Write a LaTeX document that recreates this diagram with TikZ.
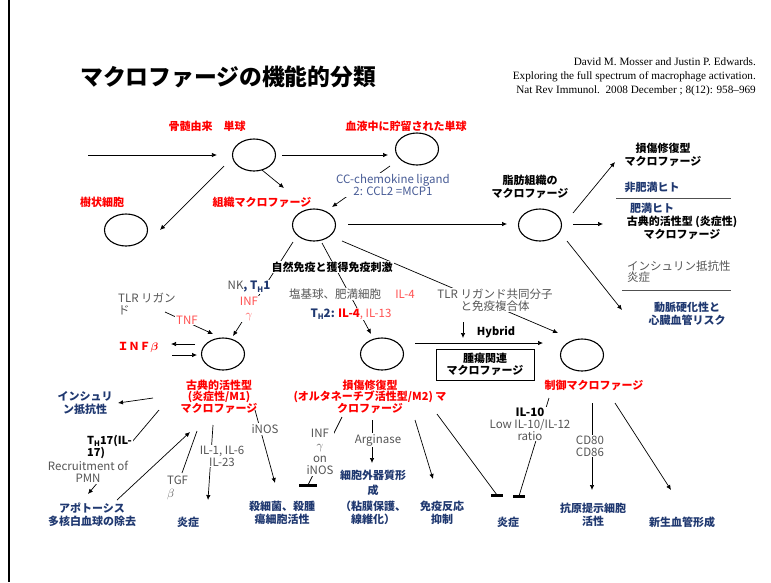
\documentclass[tikz,border=0pt]{standalone}
\usepackage{amsmath}
\usepackage{fontspec}
\setmainfont{Noto Sans CJK JP}
\newfontfamily\citefont{Liberation Serif}
\usetikzlibrary{arrows.meta,shapes.geometric}
\definecolor{jred}{RGB}{255,0,0}
\definecolor{lred}{RGB}{255,80,80}
\definecolor{navy}{RGB}{31,56,112}
\definecolor{tgray}{RGB}{85,85,85}
\definecolor{slate}{RGB}{72,92,150}
\definecolor{rulegray}{RGB}{80,80,80}
\tikzset{
  ell/.style={ellipse, draw, line width=1.1pt, minimum width=43pt, minimum height=32pt, inner sep=0pt},
  arr/.style={-{Latex[length=5pt,width=4.5pt]}, line width=0.7pt},
  ln/.style={line width=0.7pt},
  tbar/.style={line width=3pt},
  rl/.style={text=jred, font=\fontsize{11}{10.8}\selectfont\bfseries, align=center},
  nv/.style={text=navy, font=\fontsize{11}{12.8}\selectfont\bfseries, align=center},
  bk/.style={text=black, font=\fontsize{11}{12.5}\selectfont\bfseries, align=center},
  gr/.style={text=tgray, font=\fontsize{11.5}{12}\selectfont, align=center},
  wf/.style={fill=white},
}
\newcommand{\THsub}[1]{T\raisebox{-0.35ex}{\fontsize{7.5}{7.5}\selectfont H}#1}
\begin{document}
\begin{tikzpicture}[x=1pt,y=-1pt, every node/.append style={inner sep=1pt}]
\useasboundingbox (0,0) rectangle (771,582);
\draw[line width=2pt] (8.5,0) -- (8.5,582);

% title and citation
\node[anchor=west, font=\fontsize{22.8}{26}\selectfont\bfseries] (title) at (79,77) {マクロファージの機能的分類};
\node[anchor=east, align=right, font=\citefont\fontsize{11.2}{14}\selectfont] (cite) at (757,77)
  {David M. Mosser and Justin P. Edwards.\\Exploring the full spectrum of macrophage activation.\\Nat Rev Immunol.\ \ 2008 December ; 8(12): 958–969};

% cells
\node[ell] (bm) at (254,155) {};
\node[ell] (bl) at (417,149) {};
\node[ell] (dc) at (126,230) {};
\node[ell] (tm) at (314,225) {};
\node[ell] (ad) at (540,225) {};
\node[ell] (m1) at (223,354) {};
\node[ell] (m2) at (382,354) {};
\node[ell] (rg) at (582,355) {};

% coordinates for connector ends
\coordinate (src) at (88,155);
\coordinate (c1a) at (282,155); \coordinate (c1b) at (388,155);
\coordinate (c2a) at (224,166); \coordinate (c2b) at (160,230);
\coordinate (c3a) at (262,170); \coordinate (c3b) at (284,188);
\coordinate (c4a) at (390,166); \coordinate (c4b) at (332,207);
\coordinate (c5a) at (348,224); \coordinate (c5b) at (507,224);
\coordinate (c6a) at (573,213); \coordinate (c6b) at (615,162);
\coordinate (c7a) at (573,224); \coordinate (c7b) at (603,224);
\coordinate (c8a) at (567,241); \coordinate (c8b) at (622,310);
\coordinate (c9a) at (293,242); \coordinate (c9b) at (233,336);
\coordinate (c10a) at (322,243); \coordinate (c10b) at (371,334);
\coordinate (c11a) at (342,241); \coordinate (c11b) at (558,333);
\coordinate (c12a) at (463,322); \coordinate (c12b) at (463,338);
\coordinate (c13a) at (415,343); \coordinate (c13b) at (543,343);
\coordinate (c14a) at (195,344); \coordinate (c14b) at (171,344);
\coordinate (c15a) at (172,355); \coordinate (c15b) at (197,355);
\coordinate (c16a) at (165,312); \coordinate (c16b) at (213,334);
\coordinate (c17a) at (153,398); \coordinate (c17b) at (118,403);
\coordinate (c18a) at (159,410); \coordinate (c18b) at (88,494);
\coordinate (c19a) at (117,500); \coordinate (c19b) at (190,432);
\coordinate (c20a) at (197,431); \coordinate (c20b) at (182,473);
\coordinate (c21a) at (213,425); \coordinate (c21b) at (208,500);
\coordinate (c22a) at (255,410); \coordinate (c22b) at (275,483);
\coordinate (c23a) at (342,417); \coordinate (c23b) at (308,485);
\coordinate (c24a) at (372,420); \coordinate (c24b) at (372,463);
\coordinate (c25a) at (415,420); \coordinate (c25b) at (433,479);
\coordinate (c26a) at (437,414); \coordinate (c26b) at (497,495);
\coordinate (c27a) at (549,398); \coordinate (c27b) at (519,496);
\coordinate (c28a) at (592,403); \coordinate (c28b) at (592,490);
\coordinate (c29a) at (615,403); \coordinate (c29b) at (671,490);

% connectors (drawn first, labels cover them)
\draw[arr] (src) -- ([xshift=-15pt]bm.west);
\draw[arr] (c1a) -- (c1b);
\draw[arr] (c2a) -- (c2b);
\draw[arr] (c3a) -- (c3b);
\draw[arr] (c4a) -- (c4b);
\draw[arr] (c5a) -- (c5b);
\draw[arr] (c6a) -- (c6b);
\draw[arr] (c7a) -- (c7b);
\draw[arr] (c8a) -- (c8b);
\draw[arr] (c9a) -- (c9b);
\draw[arr] (c10a) -- (c10b);
\draw[arr] (c11a) -- (c11b);
\draw[arr] (c12a) -- (c12b);
\draw[arr] (c13a) -- (c13b);
\draw[arr] (c14a) -- (c14b);
\draw[arr] (c15a) -- (c15b);
\draw[arr] (c16a) -- (c16b);
\draw[arr] (c17a) -- (c17b);
\draw[arr] (c18a) -- (c18b);
\draw[arr] (c19a) -- (c19b);
\draw[ln] (c20a) -- (c20b);
\draw[arr] (c21a) -- (c21b);
\draw[arr] (c22a) -- (c22b);
\draw[ln] (c23a) -- (c23b);
\draw[tbar] ([xshift=-9pt]c23b) -- ([xshift=9pt]c23b);
\draw[arr] (c24a) -- (c24b);
\draw[arr] (c25a) -- (c25b);
\draw[ln] (c26a) -- (c26b);
\draw[tbar] ([xshift=-6pt]c26b) -- ([xshift=6pt]c26b);
\draw[ln] (c27a) -- (c27b);
\draw[tbar] ([xshift=-6pt]c27b) -- ([xshift=6pt]c27b);
\draw[arr] (c28a) -- (c28b);
\draw[arr] (c29a) -- (c29b);
\draw[line width=1pt, rulegray] (616,198) coordinate (r1a) -- (731,198) coordinate (r1b);
\draw[line width=1pt, rulegray] (622,290) coordinate (r2a) -- (731,290) coordinate (r2b);

% top labels
\node[rl] (bmL) at (207,126) {骨髄由来　単球};
\node[rl] (blL) at (406,126) {血液中に貯留された単球};
\node[rl] (dcL) at (102,202) {樹状細胞};
\node[rl] (tmL) at (262,202) {組織マクロファージ};
\node[wf, text=slate, font=\fontsize{11.5}{12.5}\selectfont, align=center] (ccl) at (393,185) {CC-chemokine ligand\\2: CCL2 =MCP1};
\node[bk] (adL) at (530,187) {脂肪組織の\\マクロファージ};
\node[bk] (repL) at (663,155) {損傷修復型\\マクロファージ};
\node[nv] (nonob) at (652,187) {非肥満ヒト};
\node[nv] (obese) at (652,208) {肥満ヒト};
\node[bk, font=\fontsize{11}{11}\selectfont\bfseries] (classR) at (682,228) {古典的活性型 (炎症性)\\マクロファージ};
\node[gr, anchor=west, align=left, font=\fontsize{11.5}{11}\selectfont] (insR) at (626,272) {インシュリン抵抗性\\炎症};
\node[nv] (athero) at (687,314) {動脈硬化性と\\心臓血管リスク};

% middle labels
\node[bk, wf] (stim) at (332,267) {自然免疫と獲得免疫刺激};
\node[wf, font=\fontsize{11.5}{12}\selectfont] (nk) at (249,287) {\textcolor{tgray}{NK}\textcolor{navy}{\bfseries , \THsub{1}}};
\node[wf, text=lred, font=\fontsize{11.5}{12.5}\selectfont, align=center] (infg) at (249,309) {INF\\$\gamma$};
\node[gr, wf] (baso) at (335,294) {塩基球、肥満細胞};
\node[gr, text=lred] (il4a) at (405,294) {IL-4};
\node[wf, font=\fontsize{11.5}{12}\selectfont] (th2) at (351,314) {\textcolor{navy}{\bfseries \THsub{2}:} \textcolor{jred}{\bfseries IL-4}\textcolor{lred}{, IL-13}};
\node[gr, wf] (tlrco) at (495,300) {TLR リガンド共同分子\\と免疫複合体};
\node[bk] (hyb) at (496,332) {Hybrid};
\node[draw, line width=0.9pt, minimum width=98pt, minimum height=31pt, bk] (tam) at (485,364.5) {腫瘍関連\\マクロファージ};

\node[rl] (ifnb) at (138,347) {ＩＮＦ$\boldsymbol{\beta}$};
\node[gr, anchor=west, align=left] (tlrl) at (117,304) {TLR リガン\\ド};
\node[wf, text=lred, font=\fontsize{11.5}{12}\selectfont] (tnf) at (187,320) {TNF};

\node[rl] (m1L) at (219,397) {古典的活性型\\(炎症性/M1)\\マクロファージ};
\node[rl] (m2L) at (370,397) {損傷修復型\\(オルタネーチブ活性型/M2) マ\\クロファージ};
\node[rl] (rgL) at (594,385) {制御マクロファージ};

% lower labels
\node[nv] (insL) at (85,403) {インシュリ\\ン抵抗性};
\node[bk, wf, anchor=west, align=left, font=\fontsize{11}{11.5}\selectfont\bfseries] (th17) at (86,447) {\THsub{17}(IL-\\17)};
\node[gr, wf] (pmn) at (88,472) {Recruitment of\\PMN};
\node[nv] (apo) at (92,515) {アポトーシス\\多核白血球の除去};
\node[gr, anchor=west, align=left, font=\fontsize{11.5}{12.5}\selectfont] (tgf) at (166,488) {TGF\\$\beta$};
\node[gr, wf] (il16) at (222,456) {IL-1, IL-6\\IL-23};
\node[nv] (inf1) at (188,522) {炎症};
\node[gr, wf] (inos) at (265,429) {iNOS};
\node[nv] (kill) at (282,513) {殺細菌、殺腫\\瘍細胞活性};
\node[gr, wf, font=\fontsize{11.5}{12.3}\selectfont] (infon) at (320,452) {INF\\$\gamma$\\on\\iNOS};
\node[gr, wf] (arg) at (378,440) {Arginase};
\node[nv, font=\fontsize{11}{15}\selectfont\bfseries] (ecm) at (373,482.5) {細胞外器質形\\成};
\node[nv] (ecm2) at (373,513) {（粘膜保護、\\線維化）};
\node[nv] (immsup) at (442,513) {免疫反応\\抑制};
\node[gr, wf] (il10) at (530,424) {\textcolor{black}{\bfseries IL-10}\\Low IL-10/IL-12\\ratio};
\node[nv] (inf2) at (508,522) {炎症};
\node[gr, wf] (cd) at (590,446) {CD80\\CD86};
\node[nv] (apc) at (593,515) {抗原提示細胞\\活性};
\node[nv] (angio) at (682,522) {新生血管形成};
\end{tikzpicture}
\end{document}
